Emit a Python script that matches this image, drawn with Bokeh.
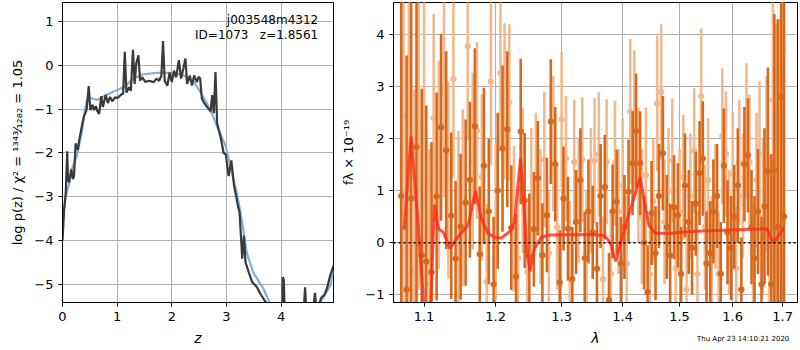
import numpy as np
from bokeh.plotting import figure
from bokeh.layouts import row, column
from bokeh.models import Range1d, FixedTicker, PrintfTickFormatter, Label, Span, Div
from bokeh.embed import file_html
from bokeh.resources import INLINE

# ---------------- left panel: log p(z) ----------------
z_pz = [0.00, 0.03, 0.06, 0.086, 0.10, 0.12, 0.16, 0.19, 0.21, 0.24, 0.28, 0.30, 0.33, 0.36, 0.39,
        0.44, 0.48, 0.51, 0.55, 0.58, 0.61, 0.64, 0.67, 0.71, 0.74, 0.79, 0.83, 0.87, 0.91, 0.96,
        1.01, 1.07, 1.11, 1.14, 1.17, 1.22, 1.25, 1.29, 1.32, 1.35, 1.39, 1.42, 1.46, 1.52, 1.58,
        1.67, 1.72, 1.77, 1.81, 1.84, 1.87, 1.92, 1.96, 2.00, 2.04, 2.08, 2.13, 2.17, 2.21, 2.25,
        2.28, 2.33, 2.37, 2.41, 2.46, 2.49, 2.52, 2.55, 2.58, 2.64, 2.71, 2.74, 2.77, 2.80, 2.83,
        2.89, 2.95, 2.99, 3.04, 3.09, 3.14, 3.18, 3.21, 3.24, 3.29, 3.32, 3.35, 3.41, 3.47, 3.56,
        3.62, 3.74, 3.85, 3.95, 4.02, 4.03, 4.05, 4.07, 4.20, 4.40, 4.44, 4.47, 4.58, 4.62, 4.65,
        4.70, 4.74, 4.79, 4.84, 4.90, 4.96]
logp = [-4.00, -3.30, -2.90, -1.96, -2.60, -2.68, -2.38, -2.60, -2.53, -1.78, -1.93, -1.75, -1.55, -1.35, -1.17,
        -1.02, -0.47, -1.02, -0.90, -1.02, -0.93, -1.05, -1.11, -0.70, -0.95, -0.67, -0.86, -0.72, -0.82, -0.73,
        -0.74, -0.67, -0.64, 0.31, -0.62, -0.50, -0.58, 0.36, -0.42, 0.05, 0.23, -0.35, -0.27, -0.38, -0.35,
        -0.38, -0.30, -0.35, -0.23, 0.56, -0.35, -0.46, -0.16, -0.38, -0.12, -0.27, 0.12, -0.30, -0.08, 0.16,
        -0.42, -0.23, -0.46, -0.23, -0.38, -0.26, -0.30, -0.75, -0.83, -0.94, -1.05, -0.68, -1.09, -0.15, -1.32,
        -1.62, -2.00, -2.04, -2.53, -2.17, -2.75, -3.00, -3.21, -3.35, -4.42, -3.89, -4.50, -4.73, -4.95, -5.07,
        -5.22, -5.45, -5.90, -6.00, -5.80, -4.84, -4.90, -5.80, -6.00, -5.90, -5.07, -5.80, -5.70, -5.20, -5.60,
        -5.45, -5.30, -5.25, -5.10, -4.80, -4.58]

z_smooth = [0.00, 0.05, 0.11, 0.17, 0.26, 0.35, 0.41, 0.46, 0.54, 0.63, 0.75, 0.93, 1.12, 1.30, 1.48,
            1.73, 1.99, 2.21, 2.40, 2.52, 2.64, 2.76, 2.88, 2.99, 3.10, 3.19, 3.28, 3.37, 3.49, 3.68,
            3.80, 4.00, 4.50, 4.71, 4.80, 4.90, 4.96]
logp_smooth = [-3.60, -3.05, -2.76, -2.38, -2.08, -1.55, -1.02, -0.75, -0.75, -0.79, -0.71, -0.60, -0.50, -0.30, -0.20,
               -0.17, -0.17, -0.22, -0.37, -0.60, -0.86, -1.17, -1.55, -1.85, -2.45, -2.91, -3.52, -4.27, -4.73, -5.11,
               -5.45, -5.90, -6.00, -5.42, -5.26, -5.03, -4.69]

z_ticks = [0, 1, 2, 3, 4]
logp_ticks = [-5, -4, -3, -2, -1, 0, 1]

# ---------------- right panel: spectrum ----------------
lam_a = [1.070, 1.077, 1.083, 1.090, 1.097, 1.103, 1.110, 1.117, 1.123, 1.130, 1.137, 1.143, 1.150, 1.157, 1.163,
         1.170, 1.177, 1.183, 1.190, 1.197, 1.203, 1.210, 1.217, 1.223, 1.230, 1.237, 1.243, 1.250, 1.257, 1.263,
         1.270, 1.277, 1.283, 1.290, 1.297, 1.303, 1.310, 1.317, 1.323, 1.330, 1.337, 1.343, 1.350, 1.357, 1.363,
         1.370, 1.377, 1.383, 1.390, 1.397, 1.403, 1.410, 1.417, 1.423, 1.430, 1.437, 1.443, 1.450, 1.457, 1.463,
         1.470, 1.477, 1.483, 1.490, 1.497, 1.503, 1.510, 1.517, 1.523, 1.530, 1.537, 1.543, 1.550, 1.557, 1.563,
         1.570, 1.577, 1.583, 1.590, 1.597, 1.603, 1.610, 1.617, 1.623, 1.630, 1.637, 1.643, 1.650, 1.657, 1.663,
         1.670, 1.677, 1.683, 1.690, 1.697, 1.703]
flux_a = [0.90, -0.90, 0.85, 1.84, -0.24, -0.36, -0.57, 0.89, 2.22, 1.78, 0.52, -0.31, 0.31, 0.77, 1.21,
          2.24, -0.22, 1.48, 0.60, -0.80, 1.00, 1.81, 2.18, 0.29, -0.65, 2.14, 0.81, -0.26, 0.26, 1.24,
          -0.24, 0.53, 2.33, 1.51, -0.76, 0.85, 0.27, -0.70, 0.40, 1.20, -0.30, 0.60, 0.20, -0.50, 0.90,
          1.07, -1.10, 0.60, 0.79, -0.40, 0.30, 0.98, 1.53, 2.15, 1.53, 0.00, -0.95, 0.57, -0.20, 0.90,
          1.72, 0.30, -0.25, 0.68, 0.53, -0.60, 1.10, 0.40, -0.10, 0.75, 1.34, 1.62, -0.40, -0.20, 0.60,
          0.90, -0.60, 1.48, 0.20, -0.10, 0.50, 1.10, -0.90, 1.51, 1.68, 0.30, -0.30, 0.60, -0.80, 0.70,
          1.37, -0.80, 1.40, 0.30, 2.80, 0.50]
err_a = [4.0, 4.5, 3.8, 3.5, 3.2, 3.0, 2.5, 2.0, 1.8, 1.9, 1.6, 1.5, 1.4, 1.6, 1.5,
         1.5, 1.3, 1.5, 1.4, 1.3, 1.5, 1.6, 1.5, 1.2, 1.2, 1.4, 1.3, 1.2, 1.1, 1.1,
         1.0, 1.1, 1.2, 1.1, 1.0, 1.0, 1.0, 1.0, 1.0, 1.0, 0.9, 1.0, 0.9, 0.9, 1.0,
         1.0, 0.9, 0.9, 1.0, 0.9, 1.0, 1.0, 1.0, 1.1, 1.0, 0.9, 0.9, 1.0, 0.9, 1.0,
         1.1, 1.0, 1.0, 1.0, 1.0, 0.9, 1.0, 1.0, 0.9, 1.0, 1.0, 1.1, 1.0, 1.0, 1.0,
         1.0, 1.0, 1.1, 1.0, 1.0, 1.0, 1.1, 1.0, 1.1, 1.1, 1.1, 1.2, 1.2, 1.3, 1.5,
         2.0, 2.5, 3.0, 4.0, 5.0, 6.0]

lam_b = [1.073, 1.080, 1.087, 1.093, 1.100, 1.107, 1.113, 1.120, 1.127, 1.133, 1.140, 1.147, 1.153, 1.160, 1.167,
         1.173, 1.180, 1.187, 1.193, 1.200, 1.207, 1.213, 1.220, 1.227, 1.233, 1.240, 1.247, 1.253, 1.260, 1.267,
         1.273, 1.280, 1.287, 1.293, 1.300, 1.307, 1.313, 1.320, 1.327, 1.333, 1.340, 1.347, 1.353, 1.360, 1.367,
         1.373, 1.380, 1.387, 1.393, 1.400, 1.407, 1.413, 1.420, 1.427, 1.433, 1.440, 1.447, 1.453, 1.460, 1.467,
         1.473, 1.480, 1.487, 1.493, 1.500, 1.507, 1.513, 1.520, 1.527, 1.533, 1.540, 1.547, 1.553, 1.560, 1.567,
         1.573, 1.580, 1.587, 1.593, 1.600, 1.607, 1.613, 1.620, 1.627, 1.633, 1.640, 1.647, 1.653, 1.660, 1.667,
         1.673, 1.680, 1.687, 1.693, 1.700]
flux_b = [2.45, 2.30, -0.55, 2.30, 2.14, -0.80, 2.40, 1.50, 2.88, 1.20, 3.15, 0.45, 0.86, 3.78, 1.57,
          2.16, 1.26, -0.75, 3.10, 0.40, 3.26, 2.72, 2.70, 0.46, -0.30, 1.20, -0.56, 0.90, 1.20, 0.50,
          1.60, -0.20, 1.90, 0.30, 2.37, 1.62, -0.40, 1.55, 0.80, 1.60, -0.20, 1.00, 1.58, 1.70, -0.70,
          1.56, -0.60, 1.53, 0.60, 1.10, -0.40, 2.52, 2.30, 1.30, 0.50, 1.30, -0.60, 0.80, 2.68, 2.90,
          0.40, 1.00, 1.58, -0.50, 0.60, 1.26, -0.90, 0.90, 1.77, -0.60, 2.82, 0.30, 1.20, -0.30, 0.70,
          -0.60, 2.05, 1.71, 0.20, 1.32, -0.50, 1.54, 0.90, 2.15, 1.55, -0.55, 1.20, 1.70, 0.50, 1.50,
          -0.30, 2.74, 1.20, 0.80, 3.74]
err_b = [4.0, 3.8, 3.5, 3.2, 3.0, 2.6, 2.0, 2.0, 2.0, 1.9, 1.9, 1.7, 1.7, 1.8, 1.7,
         1.7, 1.6, 1.5, 1.6, 1.5, 1.5, 1.5, 1.5, 1.4, 1.4, 1.4, 1.3, 1.3, 1.3, 1.3,
         1.3, 1.2, 1.3, 1.2, 1.3, 1.2, 1.2, 1.2, 1.2, 1.2, 1.2, 1.2, 1.2, 1.2, 1.2,
         1.2, 1.2, 1.2, 1.2, 1.3, 1.3, 1.4, 1.4, 1.3, 1.3, 1.3, 1.2, 1.2, 1.3, 1.3,
         1.2, 1.2, 1.2, 1.2, 1.2, 1.2, 1.2, 1.2, 1.2, 1.2, 1.3, 1.2, 1.2, 1.2, 1.2,
         1.2, 1.3, 1.2, 1.2, 1.2, 1.2, 1.2, 1.2, 1.3, 1.3, 1.3, 1.3, 1.4, 1.5, 1.7,
         2.0, 2.5, 3.0, 3.5, 4.5]

lam_model = [1.0737, 1.0829, 1.0930, 1.0992, 1.1040, 1.1093, 1.1139, 1.1193, 1.1261, 1.1351, 1.1466, 1.1606,
             1.1709, 1.1794, 1.1890, 1.1985, 1.2082, 1.2204, 1.2278, 1.2329, 1.2368, 1.2418, 1.2463, 1.2513,
             1.2578, 1.2680, 1.2804, 1.3470, 1.3690, 1.3799, 1.3882, 1.3967, 1.4080, 1.4192, 1.4296, 1.4365,
             1.4452, 1.4569, 1.4836, 1.5291, 1.5821, 1.6674, 1.6808, 1.7030]
flux_model = [0.25, 2.04, 0.20, -1.15, -1.60, -1.10, 0.73, 0.27, 0.20, -0.11, 0.12, 0.34,
              1.00, 0.46, 0.18, 0.10, 0.09, 0.21, 0.40, 1.10, 1.62, 0.72, -0.17, -0.55,
              -0.11, 0.10, 0.15, 0.16, 0.14, -0.01, -0.36, 0.00, 0.46, 0.85, 1.26, 0.85,
              0.34, 0.18, 0.18, 0.22, 0.24, 0.27, -0.01, 0.29]

lam_ticks = [1.1, 1.2, 1.3, 1.4, 1.5, 1.6, 1.7]
flux_ticks = [-1, 0, 1, 2, 3, 4]

date_text = "Thu Apr 23 14:10:21 2020"

FONT = "DejaVu Sans"
DARK = "#d8691c"
LIGHT = "#f0ba8e"


def style(p):
    p.background_fill_color = "white"
    p.border_fill_color = "white"
    p.outline_line_color = "black"
    p.outline_line_width = 1
    p.outline_line_alpha = 1
    for ax in (p.xaxis[0], p.yaxis[0]):
        ax.axis_line_color = "black"
        ax.major_tick_line_color = "black"
        ax.major_tick_out = 4
        ax.major_tick_in = 0
        ax.minor_tick_line_color = None
        ax.major_label_text_font = FONT
        ax.major_label_text_font_size = "13px"
        ax.major_label_text_color = "black"
        ax.axis_label_text_font = FONT
        ax.axis_label_text_font_size = "14px"
        ax.axis_label_text_color = "black"
        ax.axis_label_standoff = 6
    for g in (p.xgrid[0], p.ygrid[0]):
        g.grid_line_color = "#b0b0b0"
        g.grid_line_width = 1
        g.grid_line_alpha = 1


def minus(vals):
    return {v: (("\u2212" + str(abs(v))) if v < 0 else str(v)) for v in vals}


# ---- left figure ----
p1 = figure(width=338, height=348, x_range=Range1d(0, 4.96), y_range=Range1d(-5.42, 1.44),
            output_backend="svg", toolbar_location=None,
            min_border_left=62, min_border_right=5, min_border_top=2, min_border_bottom=46)
style(p1)
p1.xaxis.ticker = FixedTicker(ticks=z_ticks, minor_ticks=[])
p1.yaxis.ticker = FixedTicker(ticks=logp_ticks, minor_ticks=[])
p1.yaxis.major_label_overrides = minus(logp_ticks)
p1.xaxis.axis_label = "z"
p1.xaxis.axis_label_text_font_style = "italic"
p1.yaxis.axis_label = "log p(z) / \u03c7\u00b2 = \u00b9\u00b3\u2074\u00b3\u2044\u2081\u2082\u2088\u2082 = 1.05"
p1.yaxis.axis_label_text_font_style = "normal"
p1.yaxis.axis_label_text_font_size = "13px"

p1.line(z_smooth, logp_smooth, line_color="#7fb1d8", line_width=2.2)
p1.line(z_pz, logp, line_color="#3a3a3a", line_width=2.2)

p1.add_layout(Label(x=4.68, y=1.03, text="j003548m4312", text_align="right", text_baseline="middle",
                    text_font=FONT, text_font_size="12px", text_color="black"))
p1.add_layout(Label(x=4.68, y=0.69, text="ID=1073\u00a0\u00a0\u00a0z=1.8561", text_align="right",
                    text_baseline="middle", text_font=FONT, text_font_size="12px", text_color="black"))

# ---- right figure ----
p2 = figure(width=460, height=348, x_axis_type="log", x_range=Range1d(1.06, 1.731),
            y_range=Range1d(-1.15, 4.62), output_backend="svg", toolbar_location=None,
            min_border_left=53, min_border_right=1, min_border_top=2, min_border_bottom=46)
style(p2)
p2.xaxis.ticker = FixedTicker(ticks=lam_ticks, minor_ticks=[])
p2.xaxis.formatter = PrintfTickFormatter(format="%.1f")
p2.yaxis.ticker = FixedTicker(ticks=flux_ticks, minor_ticks=[])
p2.yaxis.major_label_overrides = minus(flux_ticks)
p2.xaxis.axis_label = "\u03bb"
p2.xaxis.axis_label_text_font_style = "italic"
p2.yaxis.axis_label = "f\u03bb \u00d7 10\u207b\u00b9\u2079"
p2.yaxis.axis_label_text_font_size = "13px"
p2.yaxis.axis_label_text_font_style = "normal"

la, fa, ea = np.array(lam_a), np.array(flux_a), np.array(err_a)
lb, fb, eb = np.array(lam_b), np.array(flux_b), np.array(err_b)

p2.segment(lb, fb - eb, lb, fb + eb, line_color=LIGHT, line_width=2.6)
p2.scatter(lb, fb, size=5.5, fill_color=LIGHT, line_color=LIGHT)
p2.segment(la, fa - ea, la, fa + ea, line_color=DARK, line_width=2.6)
p2.scatter(la, fa, size=5.5, fill_color=DARK, line_color=DARK)

p2.add_layout(Span(location=0, dimension="width", line_color="black", line_width=1.6, line_dash="2 3"))
p2.line(lam_model, flux_model, line_color="#ff2a1a", line_alpha=0.8, line_width=3)

stamp = Div(text=date_text, width=100, height=9, margin=(-13, 0, 0, 697),
            styles={"font-family": FONT, "font-size": "7px", "color": "black",
                    "white-space": "nowrap", "line-height": "9px"})

layout = column(row(p1, p2), stamp)
open("out.html", "w").write(file_html(layout, INLINE))
